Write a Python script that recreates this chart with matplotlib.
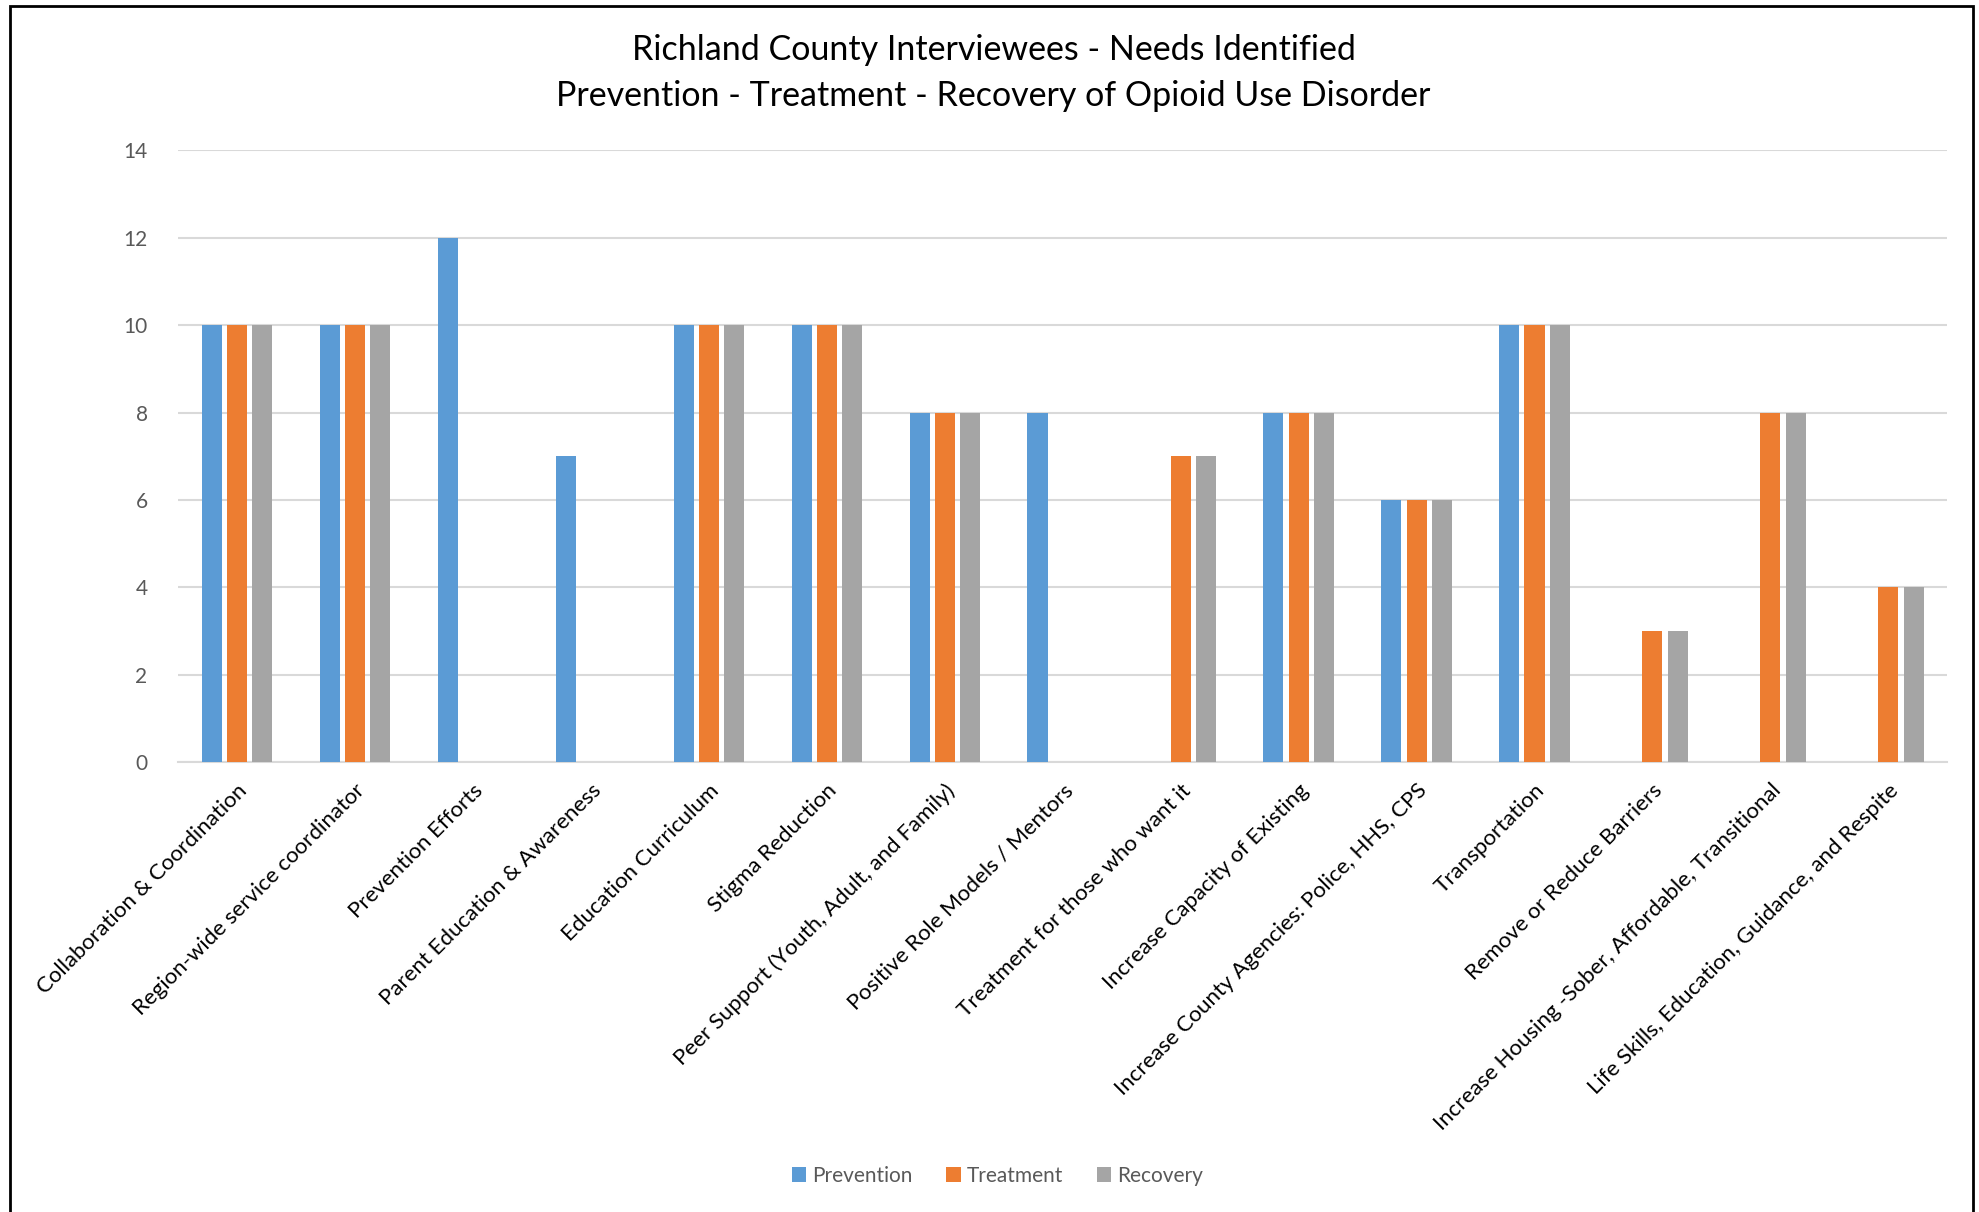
import matplotlib
matplotlib.use("Agg")
import matplotlib.pyplot as plt
import numpy as np
from matplotlib.patches import Patch, Rectangle

categories = [
    "Collaboration & Coordination",
    "Region-wide service coordinator",
    "Prevention Efforts",
    "Parent Education & Awareness",
    "Education Curriculum",
    "Stigma Reduction",
    "Peer Support (Youth, Adult, and Family)",
    "Positive Role Models / Mentors",
    "Treatment for those who want it",
    "Increase Capacity of Existing",
    "Increase County Agencies: Police, HHS, CPS",
    "Transportation",
    "Remove or Reduce Barriers",
    "Increase Housing -Sober, Affordable, Transitional",
    "Life Skills, Education, Guidance, and Respite",
]
prevention = [10, 10, 12, 7, 10, 10, 8, 8, 0, 8, 6, 10, 0, 0, 0]
treatment = [10, 10, 0, 0, 10, 10, 8, 0, 7, 8, 6, 10, 3, 8, 4]
recovery = [10, 10, 0, 0, 10, 10, 8, 0, 7, 8, 6, 10, 3, 8, 4]

series_names = ["Prevention", "Treatment", "Recovery"]
colors = ["#5B9BD5", "#ED7D31", "#A5A5A5"]

plt.rcParams["font.family"] = ["Lato", "DejaVu Sans"]

fig = plt.figure(figsize=(19.79, 12.12), dpi=100)
ax = fig.add_axes([0.090, 0.371, 0.894, 0.505])

x = np.arange(len(categories))
step = 0.214
width = 0.17
for i, (vals, c) in enumerate(zip([prevention, treatment, recovery], colors)):
    ax.bar(x + (i - 1) * step, vals, width, color=c, linewidth=0, zorder=3)

ax.set_xlim(-0.5, len(categories) - 0.5)
ax.set_ylim(0, 14)
ax.set_yticks(range(0, 15, 2))
ax.yaxis.grid(True, color="#D9D9D9", linewidth=1.5, zorder=0)
for s in ["top", "right", "left"]:
    ax.spines[s].set_visible(False)
ax.spines["bottom"].set_color("#D9D9D9")
ax.spines["bottom"].set_linewidth(1.5)
ax.tick_params(axis="both", length=0)
ax.tick_params(axis="y", labelsize=15, labelcolor="#595959", pad=22)
ax.set_xticks(x)
ax.set_xticklabels(categories, rotation=45, ha="right", rotation_mode="anchor",
                   fontsize=16, color="black")
ax.tick_params(axis="x", pad=13)

fig.text(0.502, 0.959, "Richland County Interviewees - Needs Identified",
         ha="center", va="center", fontsize=24.5)
fig.text(0.502, 0.921, "Prevention - Treatment - Recovery of Opioid Use Disorder",
         ha="center", va="center", fontsize=24.5)

handles = [Patch(facecolor=c, edgecolor="none") for c in colors]
fig.legend(handles, series_names, loc="center", bbox_to_anchor=(0.504, 0.030),
           ncol=3, frameon=False, fontsize=15, handlelength=0.7, handleheight=0.7,
           handletextpad=0.3, columnspacing=1.6, labelcolor="#595959")

fig.patches.append(Rectangle((0.005, -0.01), 0.992, 1.005, transform=fig.transFigure,
                             fill=False, edgecolor="black", linewidth=2))

fig.savefig("out.png", dpi=100)
